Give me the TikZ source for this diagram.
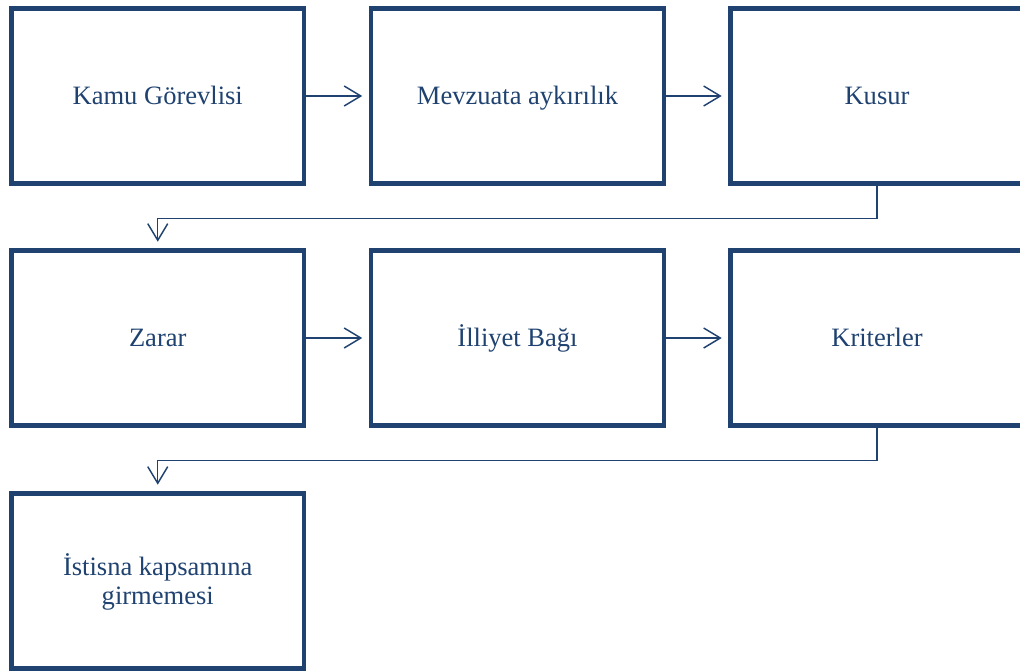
\documentclass[tikz,border=0pt]{standalone}
\usepackage{fontspec}
\setmainfont{Liberation Serif}
\usetikzlibrary{arrows.meta}
\definecolor{dblue}{RGB}{31,66,112}
\newcommand{\mystr}{\rule[-4.35pt]{0pt}{22pt}}
\begin{document}
\begin{tikzpicture}[x=0.75pt,y=-0.75pt,
  box/.style={draw=dblue,line width=3.4pt,minimum width=219.5pt,minimum height=131pt,
    inner sep=0pt,text=dblue,align=center,font=\fontsize{19.9pt}{22pt}\selectfont},
  conn/.style={draw=dblue,line width=1.1pt,-{Straight Barb[length=12.5pt,width=15pt,line width=1.1pt]}}]
\useasboundingbox (0,0) rectangle (1020,671);
\clip (0,0) rectangle (1020,671);
\node[box] (b1) at (157.75,96) {\mystr Kamu Görevlisi};
\node[box] (b2) at (517.5,96) {\mystr Mevzuata aykırılık};
\node[box] (b3) at (877,96) {\mystr Kusur};
\node[box] (b4) at (157.75,338) {\mystr Zarar};
\node[box] (b5) at (517.5,338) {\mystr İlliyet Bağı};
\node[box] (b6) at (877,338) {\mystr Kriterler};
\node[box] (b7) at (157.75,581) {\mystr İstisna kapsamına\\\mystr girmemesi};
\draw[conn,shorten >=5pt] (b1.east) -- (b2.west);
\draw[conn,shorten >=5pt] (b2.east) -- (b3.west);
\draw[conn,shorten >=5pt] (b4.east) -- (b5.west);
\draw[conn,shorten >=5pt] (b5.east) -- (b6.west);
\draw[conn,shorten >=5pt] (b3.south) -- ++(0,33) -| (b4.north);
\draw[conn,shorten >=5pt] (b6.south) -- ++(0,33) -| (b7.north);
\end{tikzpicture}
\end{document}
